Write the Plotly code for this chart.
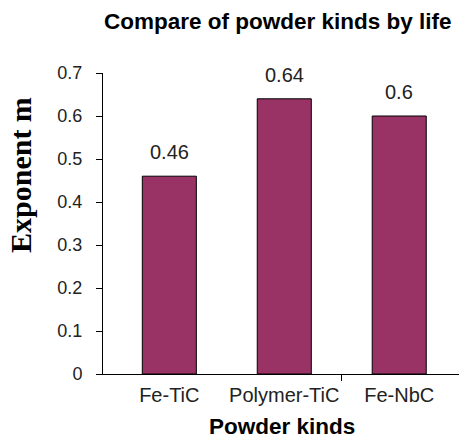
import plotly.graph_objects as go

categories = ["Fe-TiC", "Polymer-TiC", "Fe-NbC"]
values = [0.46, 0.64, 0.6]
value_labels = ["0.46", "0.64", "0.6"]
y_ticks = [0, 0.1, 0.2, 0.3, 0.4, 0.5, 0.6, 0.7]
y_tick_labels = ["0", "0.1", "0.2", "0.3", "0.4", "0.5", "0.6", "0.7"]

xpos = list(range(len(categories)))

W, H = 459, 441
L, R, T, B = 103, 0, 73, 67
pw, ph = W - L - R, H - T - B


def px(xp):
    return (xp - L) / pw


def py(yp):
    return (H - B - yp) / ph


SANS = "Arial, Liberation Sans, sans-serif"

fig = go.Figure(go.Bar(
    x=xpos, y=values, width=0.47,
    marker=dict(color="#993366", line=dict(color="black", width=1)),
    hoverinfo="skip",
))

for xv, yv, lab in zip(xpos, values, value_labels):
    fig.add_annotation(x=xv, y=yv, text=lab, showarrow=False, xref="x", yref="y",
                       xanchor="center", yanchor="bottom", yshift=11,
                       font=dict(family=SANS, size=20, color="#222"))

fig.add_annotation(text="<b>Compare of powder kinds by life</b>", x=px(278), y=py(22),
                   xref="paper", yref="paper", showarrow=False, xanchor="center", yanchor="middle",
                   font=dict(size=22.5, color="black", family=SANS))
fig.add_annotation(text="<b>Powder kinds</b>", x=px(282), y=py(426),
                   xref="paper", yref="paper", showarrow=False, xanchor="center", yanchor="middle",
                   font=dict(size=22.5, color="black", family=SANS))
fig.add_annotation(text="<b>Exponent m</b>", x=px(20), y=py(175),
                   xref="paper", yref="paper", showarrow=False, xanchor="center", yanchor="middle",
                   textangle=-90,
                   font=dict(size=30, color="black", family="Times New Roman, Liberation Serif, serif"))

fig.update_layout(
    width=W, height=H,
    margin=dict(l=L, r=R, t=T, b=B),
    paper_bgcolor="white", plot_bgcolor="white",
    showlegend=False,
    font=dict(family=SANS, color="#222"),
)

fig.update_xaxes(
    range=[-0.577, 2.52], tickvals=xpos, ticktext=categories,
    showline=True, linecolor="black", linewidth=1, ticks="", showgrid=False, zeroline=False,
    tickfont=dict(size=20, color="#222", family=SANS), ticklabelstandoff=3,
    minor=dict(tickvals=[1.5], ticks="outside", ticklen=6, tickcolor="black"),
)
fig.update_yaxes(
    range=[0, 0.7], tickvals=y_ticks, ticktext=y_tick_labels,
    showline=True, linecolor="black", linewidth=1, ticks="outside", ticklen=6, tickcolor="black",
    showgrid=False, zeroline=False, tickfont=dict(size=18, color="#222", family=SANS),
    ticklabelstandoff=10,
)

fig.write_html("out.html", config={"displayModeBar": False},
               post_script="document.body.style.margin='0';document.body.style.overflow='hidden';")
